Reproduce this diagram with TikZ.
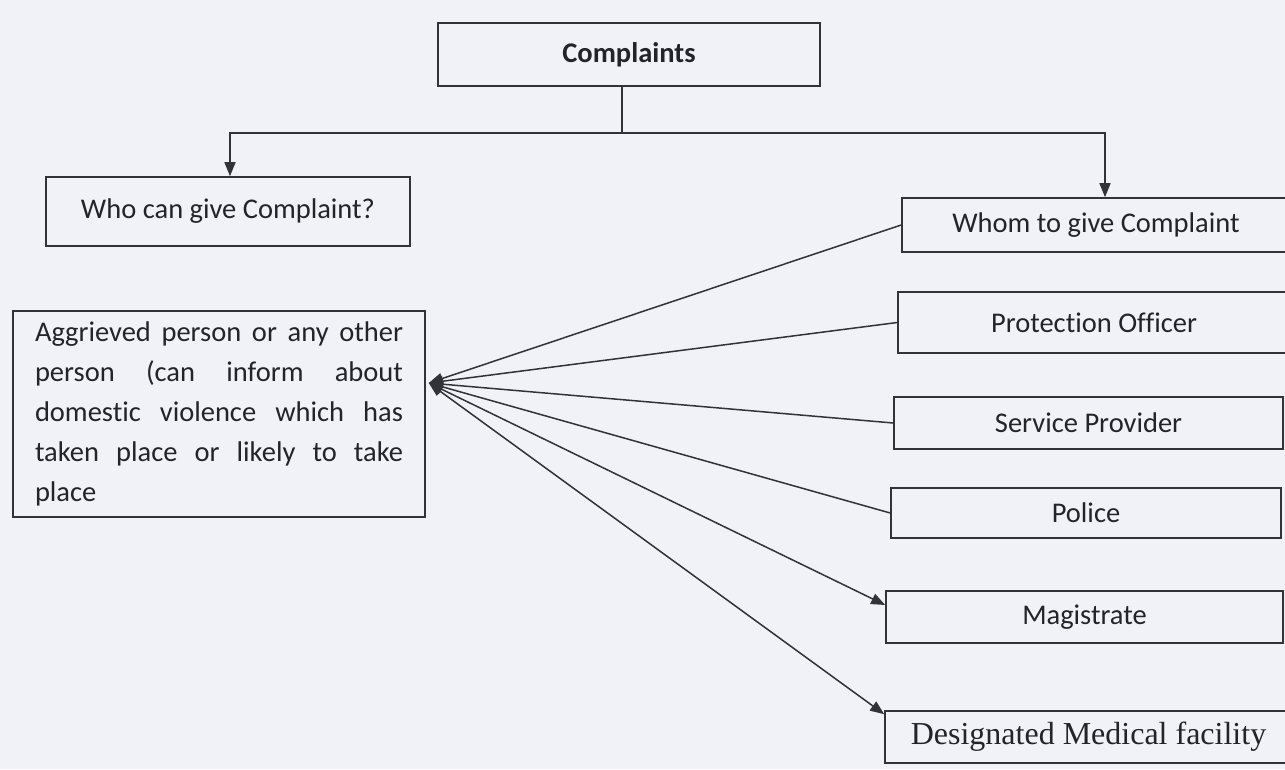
\documentclass[tikz,border=0pt]{standalone}
\usepackage{fontspec}
\setmainfont{Carlito}[RawFeature=-liga]
\newfontfamily\serifdes{Liberation Serif}
\usetikzlibrary{arrows.meta}
\definecolor{bgc}{RGB}{241,241,248}
\definecolor{linec}{RGB}{50,50,56}
\definecolor{txtc}{RGB}{35,35,40}
\begin{document}
\begin{tikzpicture}[x=1pt,y=-1pt,
  box/.style={draw=linec, line width=1.6pt, inner sep=0pt, align=center, text=txtc,
    font=\fontsize{28.5}{40}\selectfont},
  arr/.style={-{Triangle[length=14pt,width=11pt]}, line width=1.5pt, draw=linec},
  arrtwo/.style={{Triangle[length=14pt,width=11pt]}-{Triangle[length=14pt,width=11pt]}, line width=1.5pt, draw=linec}]
\useasboundingbox (0,0) rectangle (1285,769);
\clip (0,0) rectangle (1285,769);
\fill[bgc] (0,0) rectangle (1285,769);

\node[box, minimum width=382pt, minimum height=63pt] (comp) at (629,54.5) {\bfseries Complaints};
\node[box, minimum width=364pt, minimum height=69pt] (who) at (228,211.5) {Who can give Complaint?};
\node[box, minimum width=388pt, minimum height=54pt] (whom) at (1096,225) {Whom to give Complaint};
\node[box, minimum width=392pt, minimum height=61pt] (prot) at (1094,322.5) {Protection Officer};
\node[box, minimum width=389pt, minimum height=52pt] (serv) at (1088.5,423) {Service Provider};
\node[box, minimum width=390pt, minimum height=50pt] (pol) at (1086,513) {Police};
\node[box, minimum width=397pt, minimum height=52pt] (mag) at (1084.5,617) {Magistrate};
\node[box, minimum width=407pt, minimum height=52pt, font=\serifdes\fontsize{32}{36}\selectfont] (des) at (1088.5,737) {Designated Medical facility};
\node[box, minimum width=412pt, minimum height=206pt, align=left] (aggr) at (219,414)
  {\makebox[368pt][s]{Aggrieved person or any other}\\
   \makebox[368pt][s]{person (can inform about}\\
   \makebox[368pt][s]{domestic violence which has}\\
   \makebox[368pt][s]{taken place or likely to take}\\
   \makebox[368pt][l]{place}};

\coordinate (j) at (622,133);
\draw[line width=1.5pt, draw=linec] (comp.south -| j) -- (j);
\draw[arr] (j) -| ([xshift=2pt]who.north);
\draw[arr] (j) -| ([xshift=9pt]whom.north);

\coordinate (tip) at ([xshift=3pt,yshift=31pt]aggr.east);
\draw[arr] (whom.west) -- (tip);
\draw[arr] (prot.west) -- (tip);
\draw[arr] (serv.west) -- (tip);
\draw[arr] (pol.west) -- (tip);
\draw[arrtwo] (tip) -- ([yshift=12pt]mag.west);
\draw[arrtwo] (tip) -- ([yshift=-4pt]des.north west);
\end{tikzpicture}
\end{document}
